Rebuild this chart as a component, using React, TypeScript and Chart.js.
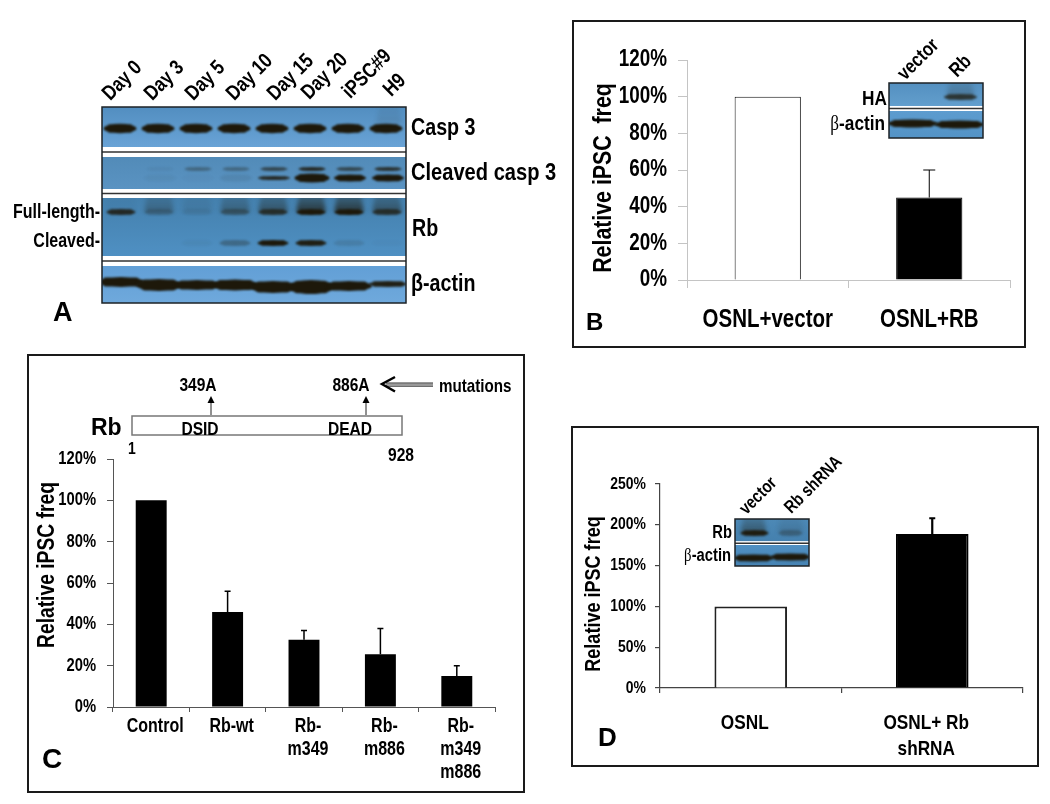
import React, { useEffect, useRef } from "react";
import { Chart, registerables } from "chart.js";
Chart.register(...registerables);

const NARROW = '"Liberation Sans", sans-serif';
const WIDE = '"Liberation Sans", sans-serif';
const SQUEEZE = 0.82;
const W = 1050;
const H = 804;

// ---- data: panel B
const bLabels = ["OSNL+vector", "OSNL+RB"];
const bValues = [100, 45];
const bErrTops = [null, 60];
const bTicks = { max: 120, step: 20 };
// ---- data: panel C
const cLabels = ["Control", "Rb-wt", ["Rb-", "m349"], ["Rb-", "m886"], ["Rb-", "m349", "m886"]];
const cValues = [100, 46, 32.5, 25.5, 15];
const cErrTops = [null, 56, 37, 38, 20];
const cTicks = { max: 120, step: 20 };
// ---- data: panel D
const dLabels = ["OSNL", ["OSNL+ Rb", "shRNA"]];
const dValues = [100, 188.7];
const dErrTops = [null, 208];
const dTicks = { max: 250, step: 50 };
// ---- data: panel A blot band intensities, one per lane
const laneLabels = ["Day 0", "Day 3", "Day 5", "Day 10", "Day 15", "Day 20", "iPSC#9", "H9"];
const casp3Levels = [1, 1, 1, 1, 1, 1, 1, 1];
const cleavedUpper = [0, 0.05, 0.32, 0.32, 0.6, 0.85, 0.6, 0.78];
const cleavedLower = [0, 0.04, 0.02, 0.08, 0.85, 1, 1, 1];
const rbFull = [0.85, 0.25, 0.08, 0.4, 0.75, 1, 1, 0.75];
const rbSmear = [0.04, 0.4, 0.14, 0.45, 0.65, 1, 1, 0.65];
const rbCleaved = [0, 0, 0.04, 0.3, 1, 0.95, 0.12, 0.02];
const actinLevels = [1, 1, 1, 1, 1, 1, 1, 0.95];
// ---- data: inset blots
const insetBLanes = ["vector", "Rb"];
const insetBHA = [0, 0.75];
const insetBActin = [1, 1];
const insetDLanes = ["vector", "Rb shRNA"];
const insetDRb = [0.95, 0.3];
const insetDActin = [1, 1];

const BAND = "#1d180a";

type Box = { l: number; t: number; r: number; b: number };

function squeezeText(ctx: any) {
  if (ctx.__squeezed) return;
  ctx.__squeezed = true;
  const orig = ctx.fillText.bind(ctx);
  ctx.fillText = (text: string, x: number, y: number) => {
    ctx.save();
    ctx.translate(x, y);
    ctx.scale(SQUEEZE, 1);
    orig(text, 0, 0);
    ctx.restore();
  };
}

function errorBars(tops: (number | null)[], lineWidth: number, cap: number) {
  return {
    id: "errorBars",
    beforeDraw(chart: any) {
      squeezeText(chart.ctx);
    },
    afterDatasetsDraw(chart: any) {
      const { ctx, scales } = chart;
      const values = chart.data.datasets[0].data;
      ctx.save();
      ctx.strokeStyle = "#000";
      ctx.lineWidth = lineWidth;
      tops.forEach((top, i) => {
        if (top == null) return;
        const x = scales.x.getPixelForValue(i);
        const y0 = scales.y.getPixelForValue(values[i]);
        const y1 = scales.y.getPixelForValue(top);
        ctx.beginPath();
        ctx.moveTo(x, y0);
        ctx.lineTo(x, y1);
        ctx.moveTo(x - cap / 2, y1);
        ctx.lineTo(x + cap / 2, y1);
        ctx.stroke();
      });
      ctx.restore();
    },
  };
}

function barChart(canvas: HTMLCanvasElement, o: any) {
  const p: Box = o.plot;
  const xHeight = 90;
  return new Chart(canvas, {
    type: "bar",
    data: {
      labels: o.labels,
      datasets: [
        {
          data: o.values,
          backgroundColor: o.fills,
          borderColor: o.borders,
          borderWidth: o.borderWidth,
          barPercentage: o.barPct,
          categoryPercentage: 1,
        },
      ],
    },
    options: {
      animation: false,
      responsive: false,
      devicePixelRatio: 1,
      events: [],
      layout: { padding: { left: 0, top: p.t, right: W - p.r, bottom: H - p.b - xHeight } },
      plugins: { legend: { display: false }, tooltip: { enabled: false } },
      scales: {
        x: {
          afterFit: (s: any) => { s.height = xHeight; },
          border: { color: o.axisColor, width: o.axisWidth },
          grid: { drawOnChartArea: false, color: o.axisColor, lineWidth: o.axisWidth, tickLength: o.tickX },
          ticks: {
            autoSkip: false,
            maxRotation: 0,
            minRotation: 0,
            color: "#000",
            padding: o.xPad,
            labelOffset: o.xOffset,
            font: { family: NARROW, weight: "bold", size: o.xSize, lineHeight: o.xLine },
          },
        },
        y: {
          min: 0,
          max: o.ticks.max,
          afterFit: (s: any) => { s.width = p.l; },
          border: { color: o.axisColor, width: o.axisWidth },
          grid: { drawOnChartArea: false, color: o.axisColor, lineWidth: o.axisWidth, tickLength: o.tickY },
          ticks: {
            stepSize: o.ticks.step,
            color: "#000",
            padding: o.yPad,
            callback: (v: any) => `${v}%`,
            font: { family: NARROW, weight: "bold", size: o.ySize },
          },
        },
      },
    },
    plugins: [errorBars(o.errTops, o.errWidth, o.cap), ...(o.extra || [])],
  } as any);
}

function blotChart(canvas: HTMLCanvasElement, box: Box, lanes: string[], paint: (ctx: any, laneX: (i: number) => number) => void) {
  return new Chart(canvas, {
    type: "bar",
    data: { labels: lanes, datasets: [] },
    options: {
      animation: false,
      responsive: false,
      devicePixelRatio: 1,
      events: [],
      layout: { padding: { left: box.l, top: box.t, right: W - box.r, bottom: H - box.b } },
      plugins: { legend: { display: false }, tooltip: { enabled: false } },
      scales: {
        x: { display: false },
        y: { display: false, min: box.t, max: box.b, reverse: true },
      },
    },
    plugins: [
      {
        id: "blot",
        afterDraw(chart: any) {
          const ctx = chart.ctx;
          ctx.save();
          paint(ctx, (i) => chart.scales.x.getPixelForValue(i));
          ctx.restore();
        },
      },
    ],
  } as any);
}

function row(ctx: any, box: Box, top: number, bottom: number, c0: string, c1: string, draw: () => void) {
  ctx.save();
  ctx.beginPath();
  ctx.rect(box.l, top, box.r - box.l, bottom - top);
  ctx.clip();
  const g = ctx.createLinearGradient(0, top, 0, bottom);
  g.addColorStop(0, c0);
  g.addColorStop(1, c1);
  ctx.fillStyle = g;
  ctx.fillRect(box.l, top, box.r - box.l, bottom - top);
  draw();
  ctx.restore();
}

function band(ctx: any, cx: number, cy: number, w: number, h: number, alpha: number, blur = 1) {
  if (alpha <= 0) return;
  ctx.save();
  ctx.filter = `blur(${blur}px)`;
  ctx.globalAlpha = alpha;
  ctx.fillStyle = BAND;
  ctx.beginPath();
  ctx.ellipse(cx, cy, w / 2, h / 2, 0, 0, Math.PI * 2);
  ctx.roundRect(cx - w * 0.42, cy - h * 0.45, w * 0.84, h * 0.9, h * 0.45);
  ctx.fill("nonzero");
  ctx.restore();
}

function smear(ctx: any, cx: number, top: number, bottom: number, w: number, alpha: number) {
  if (alpha <= 0) return;
  ctx.save();
  ctx.filter = "blur(2px)";
  const g = ctx.createLinearGradient(0, top, 0, bottom);
  g.addColorStop(0, `rgba(29,24,10,${alpha * 0.45})`);
  g.addColorStop(1, `rgba(29,24,10,${alpha * 0.95})`);
  ctx.fillStyle = g;
  ctx.beginPath();
  ctx.moveTo(cx - w / 2 + 2, top - 4);
  ctx.lineTo(cx + w / 2 - 2, top - 4);
  ctx.lineTo(cx + w / 2 + 1, bottom);
  ctx.lineTo(cx - w / 2 - 1, bottom);
  ctx.closePath();
  ctx.fill();
  ctx.restore();
}

function separator(ctx: any, box: Box, y0: number, y1: number) {
  ctx.fillStyle = "#fff";
  ctx.fillRect(box.l, y0, box.r - box.l, y1 - y0);
  ctx.fillStyle = "#333";
  ctx.fillRect(box.l, (y0 + y1) / 2 - 0.75, box.r - box.l, 1.5);
}

function frame(ctx: any, box: Box) {
  ctx.strokeStyle = "#1c2226";
  ctx.lineWidth = 1.5;
  ctx.strokeRect(box.l, box.t, box.r - box.l, box.b - box.t);
}

const boxA: Box = { l: 102, t: 107, r: 406, b: 303 };
const boxBI: Box = { l: 889, t: 83, r: 983, b: 138 };
const boxDI: Box = { l: 735, t: 519, r: 809, b: 566 };

function paintA(ctx: any, laneX: (i: number) => number) {
  const b = boxA;
  row(ctx, b, 107, 147, "#528ec0", "#69a3d6", () => {
    casp3Levels.forEach((v, i) => band(ctx, laneX(i) - 1, 128.5, 33, 9.5, v, 0.8));
    smear(ctx, laneX(7) + 2, 111, 124, 24, 0.12);
  });
  row(ctx, b, 157, 189, "#528bb8", "#5a93c2", () => {
    cleavedUpper.forEach((v, i) => band(ctx, laneX(i) + 1, 169, 27, 4, v, 0.9));
    cleavedLower.forEach((v, i) => band(ctx, laneX(i) + 1, 178, i === 5 ? 35 : 32, i === 5 ? 9 : i === 4 ? 4 : 7, v, 0.9));
  });
  row(ctx, b, 198, 256, "#4480ad", "#4f90c3", () => {
    rbSmear.forEach((v, i) => smear(ctx, laneX(i), 199, 212, 28, v * 0.75));
    rbFull.forEach((v, i) => band(ctx, laneX(i), 212, 29, 6, v, 1));
    rbCleaved.forEach((v, i) => band(ctx, laneX(i), 243, 31, 6, v, 1));
  });
  row(ctx, b, 266, 303, "#629fd6", "#6fa9dc", () => {
    const thick = [10, 12, 10, 11, 12, 14, 10, 6];
    const ys = [282, 285, 285, 285, 287, 287, 286, 284];
    actinLevels.forEach((v, i) => band(ctx, laneX(i) + (i === 7 ? 1 : 0), ys[i], i === 7 ? 38 : 46, thick[i], v, 0.8));
  });
  separator(ctx, b, 147, 157);
  separator(ctx, b, 189, 198);
  separator(ctx, b, 256, 266);
  frame(ctx, b);
}

function paintBI(ctx: any, laneX: (i: number) => number) {
  const b = boxBI;
  row(ctx, b, 83, 106, "#5490c0", "#629ecd", () => {
    insetBHA.forEach((v, i) => {
      band(ctx, laneX(i) + 1, 97, 33, 6, v, 1.2);
      smear(ctx, laneX(i) + 1, 86, 96, 26, v * 0.35);
    });
  });
  row(ctx, b, 111, 138, "#5d9ccf", "#5393c6", () => {
    insetBActin.forEach((v, i) => band(ctx, laneX(i), i === 0 ? 123.5 : 124.5, 50, 8, v, 0.8));
  });
  separator(ctx, b, 106, 111);
  frame(ctx, b);
}

function paintDI(ctx: any, laneX: (i: number) => number) {
  const b = boxDI;
  row(ctx, b, 519, 541.5, "#4d89b6", "#4480ae", () => {
    insetDRb.forEach((v, i) => {
      band(ctx, laneX(i) + (i === 0 ? 1 : 0), 533, i === 0 ? 28 : 24, 6, v, 1.2);
      smear(ctx, laneX(i), 521, 532, 24, v * 0.45);
    });
  });
  row(ctx, b, 545, 566, "#5090c2", "#4683b3", () => {
    insetDActin.forEach((v, i) => band(ctx, laneX(i), i === 0 ? 558 : 557, 40, 7, v, 1));
  });
  separator(ctx, b, 541.5, 545);
  frame(ctx, b);
}

const schematic = {
  id: "schematic",
  afterDraw(chart: any) {
    const ctx = chart.ctx;
    ctx.save();
    ctx.strokeStyle = "#777";
    ctx.lineWidth = 1.5;
    ctx.strokeRect(132, 416, 270, 19);
    ctx.strokeStyle = "#222";
    ctx.fillStyle = "#000";
    ctx.lineWidth = 1;
    [211, 366].forEach((x) => {
      ctx.beginPath();
      ctx.moveTo(x, 415);
      ctx.lineTo(x, 400);
      ctx.stroke();
      ctx.beginPath();
      ctx.moveTo(x - 3.5, 403);
      ctx.lineTo(x, 396);
      ctx.lineTo(x + 3.5, 403);
      ctx.closePath();
      ctx.fill();
    });
    // mutations arrow
    ctx.fillStyle = "#333";
    ctx.fillRect(386, 382.5, 47, 1.2);
    ctx.fillRect(386, 385.5, 47, 1.2);
    ctx.fillStyle = "#999";
    ctx.fillRect(386, 383.7, 47, 1.8);
    ctx.strokeStyle = "#000";
    ctx.lineWidth = 2.5;
    ctx.beginPath();
    ctx.moveTo(395, 377);
    ctx.lineTo(382, 384);
    ctx.lineTo(395, 391.5);
    ctx.stroke();
    ctx.restore();
  },
};

function Canvas({ build }: { build: (c: HTMLCanvasElement) => Chart }) {
  const ref = useRef<HTMLCanvasElement>(null);
  useEffect(() => {
    const ch = build(ref.current!);
    return () => ch.destroy();
  }, []);
  return <canvas ref={ref} width={W} height={H} style={{ position: "absolute", left: 0, top: 0, width: W, height: H }} />;
}

function T({ x, y, s, size, a = "l", rot = 0, sx = SQUEEZE, f = NARROW, w = 700, children }: any) {
  const tx = a === "l" ? "0" : a === "r" ? "-100%" : "-50%";
  const origin = a === "l" ? "left center" : a === "r" ? "right center" : "center center";
  const style: React.CSSProperties = {
    position: "absolute",
    left: x,
    top: y,
    fontFamily: f,
    fontWeight: w,
    fontSize: size,
    lineHeight: 1,
    whiteSpace: "pre",
    color: "#000",
    transformOrigin: origin,
    transform: `translate(${tx}, -50%) rotate(${rot}deg) scaleX(${sx})`,
  };
  return <div style={style}>{children ?? s}</div>;
}

function Frame({ l, t, r, b }: Box) {
  return (
    <div
      style={{
        position: "absolute",
        left: l,
        top: t,
        width: r - l,
        height: b - t,
        boxSizing: "border-box",
        border: "2px solid #1a1a1a",
      }}
    />
  );
}

const Beta = () => <span style={{ fontFamily: '"Liberation Serif", serif', fontWeight: 400 }}>β</span>;

const laneTextX = [105, 147, 188, 229, 270, 304, 345, 386];
const laneTextY = [96, 96, 96, 96, 96, 95, 94, 92];

export default function App() {
  return (
    <div style={{ position: "absolute", left: 0, top: 0, width: W, height: H, background: "#fff", overflow: "hidden", filter: "blur(0.35px)" }}>
      <Frame l={572} t={20} r={1026} b={348} />
      <Frame l={27} t={354} r={525} b={793} />
      <Frame l={571} t={426} r={1039} b={767} />

      <Canvas build={(c) => blotChart(c, boxA, laneLabels, paintA)} />
      <Canvas
        build={(c) =>
          barChart(c, {
            plot: { l: 687, t: 60, r: 1010, b: 280 },
            labels: bLabels,
            values: bValues,
            errTops: bErrTops,
            ticks: bTicks,
            fills: ["#fff", "#000"],
            borders: ["#111", "#000"],
            borderWidth: 1,
            barPct: 0.41,
            axisColor: "#c4c4c4",
            axisWidth: 1,
            tickX: 8,
            tickY: 9,
            xPad: 17,
            xOffset: 0,
            xSize: 25,
            xLine: 1.2,
            yPad: 11,
            ySize: 23,
            errWidth: 1,
            cap: 12,
          })
        }
      />
      <Canvas build={(c) => blotChart(c, boxBI, insetBLanes, paintBI)} />
      <Canvas
        build={(c) =>
          barChart(c, {
            plot: { l: 113, t: 459, r: 495, b: 707 },
            labels: cLabels,
            values: cValues,
            errTops: cErrTops,
            ticks: cTicks,
            fills: "#000",
            borders: "#000",
            borderWidth: 0,
            barPct: 0.405,
            axisColor: "#555",
            axisWidth: 1,
            tickX: 5,
            tickY: 6,
            xPad: 3,
            xOffset: 4,
            xSize: 19.5,
            xLine: 1.18,
            yPad: 11,
            ySize: 18,
            errWidth: 1.5,
            cap: 6,
            extra: [schematic],
          })
        }
      />
      <Canvas
        build={(c) =>
          barChart(c, {
            plot: { l: 660, t: 484, r: 1023, b: 688 },
            labels: dLabels,
            values: dValues,
            errTops: dErrTops,
            ticks: dTicks,
            fills: ["#fff", "#000"],
            borders: ["#222", "#000"],
            borderWidth: 2,
            barPct: 0.4,
            axisColor: "#444",
            axisWidth: 1.2,
            tickX: 5,
            tickY: 5,
            xPad: 18,
            xOffset: -6,
            xSize: 21,
            xLine: 1.2,
            yPad: 9,
            ySize: 17,
            errWidth: 2.2,
            cap: 6,
          })
        }
      />
      <Canvas build={(c) => blotChart(c, boxDI, insetDLanes, paintDI)} />

      {/* Panel A */}
      {laneLabels.map((s, i) => (
        <T key={s} x={laneTextX[i]} y={laneTextY[i]} s={s} size={21} rot={-45} />
      ))}
      <T x={411} y={127} s="Casp 3" size={24} />
      <T x={411} y={172} s="Cleaved casp 3" size={24.5} />
      <T x={412} y={228} s="Rb" size={24} />
      <T x={411} y={283} s="β-actin" size={24} />
      <T x={100} y={212} s="Full-length-" size={19.5} a="r" />
      <T x={100} y={241} s="Cleaved-" size={19.5} a="r" />
      <T x={53} y={312} s="A" size={27} f={WIDE} sx={1} />

      {/* Panel B */}
      <T x={602} y={178} s="Relative iPSC  freq" size={26} a="c" rot={-90} />
      <T x={887} y={97} s="HA" size={21} a="r" />
      <T x={885} y={123} size={21} a="r"><Beta />-actin</T>
      <T x={900} y={76} s="vector" size={20} rot={-45} />
      <T x={952} y={73} s="Rb" size={20} rot={-45} />
      <T x={586} y={322} s="B" size={24} f={WIDE} sx={1} />

      {/* Panel C */}
      <T x={47} y={565} s="Relative iPSC freq" size={23.5} a="c" rot={-90} />
      <T x={198} y={384} s="349A" size={19} a="c" />
      <T x={351} y={384} s="886A" size={19} a="c" />
      <T x={439} y={386} s="mutations" size={18.5} />
      <T x={200} y={428} s="DSID" size={19} a="c" />
      <T x={350} y={428} s="DEAD" size={19} a="c" />
      <T x={91} y={427} s="Rb" size={23} f={WIDE} sx={1} />
      <T x={132} y={448} s="1" size={17} a="c" />
      <T x={401} y={454} s="928" size={19} a="c" />
      <T x={42} y={759} s="C" size={28} f={WIDE} sx={1} />

      {/* Panel D */}
      <T x={593} y={594} s="Relative iPSC freq" size={22} a="c" rot={-90} />
      <T x={732} y={532} s="Rb" size={18} a="r" />
      <T x={731} y={555} size={18} a="r"><Beta />-actin</T>
      <T x={742} y={511} s="vector" size={18} rot={-45} />
      <T x={787} y={510} s="Rb shRNA" size={18} rot={-45} />
      <T x={598} y={737} s="D" size={26} f={WIDE} sx={1} />
    </div>
  );
}
